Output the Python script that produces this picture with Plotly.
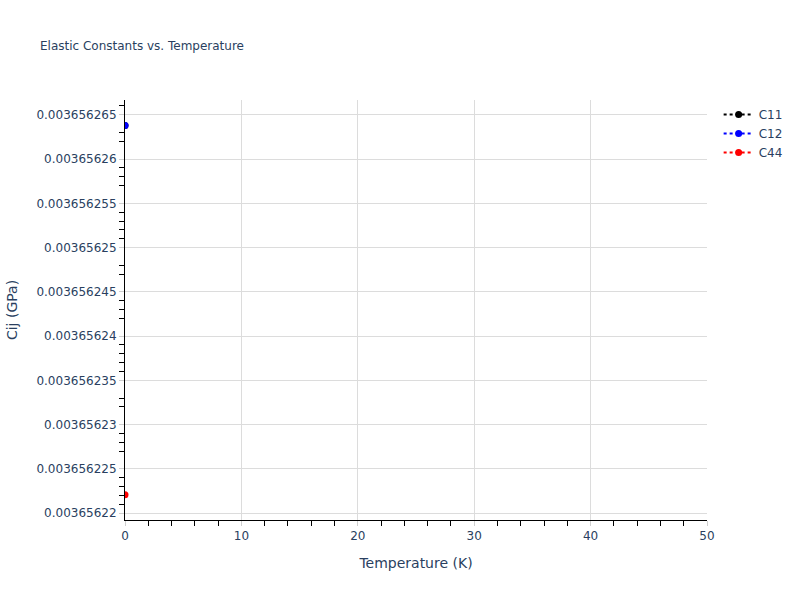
import plotly.graph_objects as go

temperature = [0]
c11 = [0.0036562638]
c12 = [0.0036562638]
c44 = [0.0036562221]

series = [("C11", c11, "black"), ("C12", c12, "blue"), ("C44", c44, "red")]

fig = go.Figure()
for name, vals, col in series:
    fig.add_trace(go.Scatter(
        x=temperature, y=vals, name=name, mode="lines+markers",
        line=dict(color=col, dash="dot"), marker=dict(color=col, size=7),
    ))

axis_common = dict(
    showgrid=True, gridcolor="#dcdcdc", showline=True, linecolor="black",
    ticks="outside", tickcolor="#cfcfcf", ticklen=5,
    zeroline=False,
)
fig.update_layout(
    template="plotly_white",
    title=dict(text="Elastic Constants vs. Temperature", font=dict(size=12)),
    font=dict(family="DejaVu Sans"),
    width=800, height=600,
    plot_bgcolor="white", paper_bgcolor="white",
    xaxis=dict(title="Temperature (K)", range=[0, 50], dtick=10,
               minor=dict(ticks="outside", dtick=2, tickcolor="black", ticklen=5, showgrid=False),
               **axis_common),
    yaxis=dict(title="Cij (GPa)", dtick=5e-9,
               minor=dict(ticks="outside", dtick=1e-9, tickcolor="black", ticklen=5, showgrid=False),
               **axis_common),
)
fig.write_html("out.html", config={"displayModeBar": False},
               post_script="document.body.style.margin='0';")
